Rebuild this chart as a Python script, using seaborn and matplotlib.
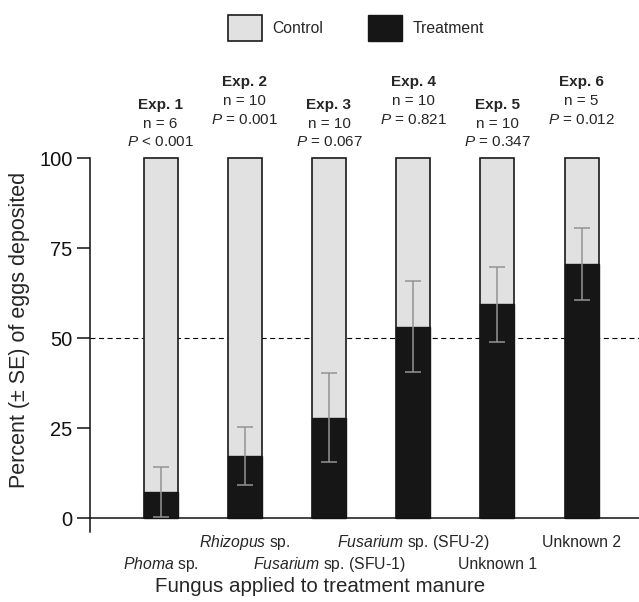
import matplotlib
matplotlib.use("Agg")
import matplotlib.pyplot as plt
from matplotlib.patches import Patch
import seaborn as sns
import pandas as pd

# Oviposition choice per fungus: share of eggs on treatment manure (%)
fungi = ["$\\it{Phoma}$ sp.", "$\\it{Rhizopus}$ sp.", "$\\it{Fusarium}$ sp. (SFU-1)",
         "$\\it{Fusarium}$ sp. (SFU-2)", "Unknown 1", "Unknown 2"]
treatment = [7.4, 17.3, 28.0, 53.2, 59.4, 70.6]
treatment_se = [7.0, 8.0, 12.4, 12.6, 10.4, 10.0]
control_total = [100, 100, 100, 100, 100, 100]
experiments = ["Exp. 1", "Exp. 2", "Exp. 3", "Exp. 4", "Exp. 5", "Exp. 6"]
n_reps = [6, 10, 10, 10, 10, 5]
p_values = ["< 0.001", "= 0.001", "= 0.067", "= 0.821", "= 0.347", "= 0.012"]
y_ticks = [0, 25, 50, 75, 100]

sns.set_style("ticks")
plt.rcParams["font.family"] = ["Liberation Sans", "DejaVu Sans"]
plt.rcParams["mathtext.fontset"] = "custom"
plt.rcParams["mathtext.rm"] = "Liberation Sans"
plt.rcParams["mathtext.it"] = "Liberation Sans:italic"
plt.rcParams["mathtext.bf"] = "Liberation Sans:bold"

CONTROL_C = "#e1e1e1"
TREAT_C = "#161616"

df = pd.DataFrame({"fungus": fungi, "control": control_total,
                   "treatment": treatment, "se": treatment_se})

fig = plt.figure(figsize=(6.39, 6.02), dpi=100)
ax = fig.add_axes([0.1408, 0.1168, 0.8592, 0.6203])

ax.axhline(50, color="black", lw=0.8, ls=(0, (4.5, 3.2)), zorder=0.5)

sns.barplot(data=df, x="fungus", y="control", order=fungi, color=CONTROL_C,
            saturation=1, width=0.404, edgecolor="#1a1a1a", linewidth=1.2,
            ax=ax, zorder=2)
sns.barplot(data=df, x="fungus", y="treatment", order=fungi, color=TREAT_C,
            saturation=1, width=0.404, edgecolor=TREAT_C, linewidth=1.0,
            ax=ax, zorder=2.5)
for p in ax.patches:
    p.set_clip_on(False)

ax.errorbar(x=range(len(fungi)), y=df["treatment"], yerr=df["se"], fmt="none",
            ecolor="#949494", elinewidth=1.1, capsize=5.8, capthick=1.1, zorder=3)

ax.set_xlim(-0.838, 5.682)
ax.set_ylim(-3.7, 100)
ax.set_yticks(y_ticks)
ax.set_yticklabels([str(t) for t in y_ticks], fontsize=14.5)
ax.tick_params(axis="y", direction="out", length=9.4, width=1.1, pad=3, colors="#111111")
ax.set_xticks([])
ax.set_xlabel("")
ax.set_ylabel("")
for s in ["top", "right"]:
    ax.spines[s].set_visible(False)
ax.spines["bottom"].set_position(("data", 0))
for s in ["left", "bottom"]:
    ax.spines[s].set_linewidth(1.1)
    ax.spines[s].set_color("#111111")

# fungus names in two staggered rows below the axis
for i, name in enumerate(fungi):
    y = -14.0 if i % 2 == 0 else -7.9
    ax.text(i, y, name, ha="center", va="baseline", fontsize=11.3, clip_on=False)

# experiment headers above each bar, staggered
for i in range(len(fungi)):
    base = 113.8 if i % 2 == 0 else 120.0
    ax.text(i, base, experiments[i], ha="center", va="baseline", fontsize=11,
            fontweight="bold", clip_on=False)
    ax.text(i, base - 5.3, f"n = {n_reps[i]}", ha="center", va="baseline",
            fontsize=11, clip_on=False)
    ax.text(i, base - 10.4, "$\\it{P}$ " + p_values[i], ha="center",
            va="baseline", fontsize=11, clip_on=False)

fig.text(320 / 639, 0.026, "Fungus applied to treatment manure", ha="center",
         va="center", fontsize=14.8)
fig.text(20 / 639, 0.452, "Percent (± SE) of eggs deposited", ha="center",
         va="center", rotation=90, fontsize=15.5)

handles = [Patch(facecolor=CONTROL_C, edgecolor="#1a1a1a", linewidth=1.2, label="Control"),
           Patch(facecolor=TREAT_C, edgecolor=TREAT_C, linewidth=1.0, label="Treatment")]
fig.legend(handles=handles, loc="center", bbox_to_anchor=(356 / 639, 0.9535),
           ncol=2, frameon=False, fontsize=11.3, handlelength=2.15,
           handleheight=2.1, handletextpad=0.7, columnspacing=2.85, borderpad=0)

fig.savefig("out.png", dpi=100)
